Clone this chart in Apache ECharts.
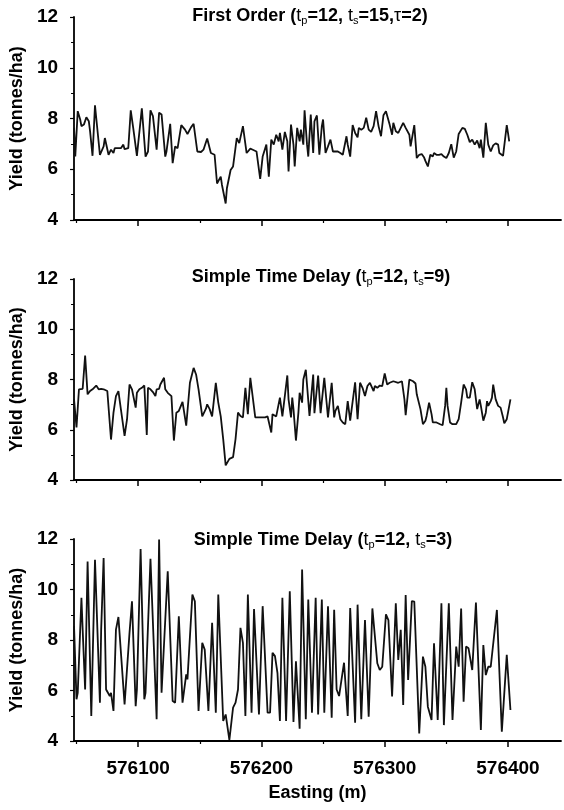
<!DOCTYPE html>
<html>
<head>
<meta charset="utf-8">
<script src="https://cdn.jsdelivr.net/npm/echarts@6/dist/echarts.min.js"></script>
<style>html,body{margin:0;padding:0;background:#fff}#c{width:564px;height:810px}</style>
</head>
<body>
<div id="c"></div>
<script>
// ---- Data (Easting in m, Yield in tonnes/ha) ----
const eastingFirstOrder = [
576048,576049,576051,576053,576054,576056,576058,576060,576061,576063,576065,576066,576069,576072,576073,576076,576078,576080,576081,576082,
576084,576086,576088,576089,576092,576094,576096,576099,576103,576106,576108,576110,576112,576115,576117,576119,576122,576123,576126,576128,
576130,576132,576135,576138,576140,576143,576145,576148,576151,576153,576156,576159,576162,576164,576167,576168,576171,576172,576175,576177,
576180,576182,576185,576188,576191,576193,576196,576199,576201,576204,576206,576208,576210,576212,576214,576215,576217,576219,576221,576222,
576224,
576226,576227,576229,576231,576232,576234,576235,576237,576238,576240,576242,576243,576245,576247,576249,576250,576252,576254,576256,576258,
576259,576262,576264,576266,576267,576269,576270,576272,576274,576276,576278,576279,576281,576283,576285,576287,576289,576291,576293,576295,
576297,576299,576301,576302,576304,576306,576307,576309,576311,576313,576315,576317,576320,576321,576324,576326,576328,576330,576332,576333,
576335,576337,576339,576340,576342,576344,576346,576348,576350,576352,576354,576356,576358,576360,576363,576365,576367,576369,576371,576373,
576375,576377,576378,576380,576382,576384,576386,576388,576390,576392,576393,576396,576397,576399,576400,576401
];
const yieldFirstOrder = [
7.63,6.50,8.29,7.96,7.70,7.76,8.05,7.89,7.50,6.53,8.52,8.03,6.57,6.90,7.23,6.57,6.77,6.64,6.83,6.77,
6.83,6.83,6.97,6.79,6.83,8.32,7.63,6.53,8.40,6.50,6.70,8.32,8.09,6.77,8.23,8.16,6.50,6.70,7.79,6.24,
6.90,6.83,7.74,7.56,7.39,7.66,7.79,6.70,6.68,6.77,7.21,6.64,6.57,5.44,5.71,5.38,4.65,5.25,5.97,6.11,
7.23,7.03,7.70,6.64,6.81,6.77,6.70,5.62,6.50,6.97,5.71,7.17,6.97,7.36,7.10,7.43,6.77,7.47,7.10,5.91,
7.76,
6.97,6.11,7.63,7.10,7.56,6.97,8.32,6.97,6.50,8.16,6.64,7.89,8.12,6.57,7.70,7.96,6.64,6.90,7.17,6.70,
6.64,6.70,6.64,6.57,6.50,7.30,6.97,6.50,7.74,7.43,7.26,7.63,7.56,7.63,8.03,7.56,7.47,7.70,8.29,7.70,
7.30,8.13,8.29,8.23,7.76,7.36,7.83,7.50,7.43,7.63,7.83,7.63,7.36,6.90,7.74,6.44,6.57,6.60,6.46,6.33,
6.11,6.57,6.50,6.64,6.57,6.57,6.60,6.50,6.44,6.64,6.99,6.46,6.70,7.39,7.63,7.59,7.36,7.07,7.17,6.97,
7.13,6.83,7.17,6.46,7.83,6.97,6.70,6.94,7.02,6.97,6.64,6.53,6.57,7.74,7.43,7.10
];

const eastingDelay9 = [
576048,576050,576052,576055,576057,576059,576061,576063,576064,576066,576068,576070,576072,576073,576075,576078,576080,576082,576084,576086,
576089,576091,576093,576095,576098,576099,576101,576103,576105,576107,576108,576110,576112,576114,576115,576117,576118,576121,576122,576124,
576127,576129,576131,576133,576136,576139,576142,576145,576147,576149,576152,576155,576156,576158,576160,576163,576165,576167,576169,576171,
576174,576177,576179,576181,576183,576185,576187,576189,576191,576195,576199,576203,576205,576208,576209,576212,576215,576217,576221,576222,
576224,
576225,576226,576228,576230,576231,576233,576234,576236,576239,576242,576243,576246,576248,576251,576254,576257,576259,576260,576262,576264,
576266,576268,576270,576272,576276,576278,576280,576282,576284,576286,576288,576291,576292,576294,576296,576298,576300,576302,576304,576307,
576308,576311,576314,576316,576317,576320,576323,576325,576326,576329,576331,576333,576334,576336,576338,576339,576342,576345,576347,576349,
576350,576351,576353,576355,576358,576360,576362,576364,576366,576367,576369,576371,576373,576374,576375,576377,576378,576380,576382,576383,
576384,576386,576387,576388,576390,576392,576394,576396,576397,576399,576400,576402
];
const yieldDelay9 = [
7.21,6.09,7.61,7.63,8.95,7.41,7.54,7.61,7.63,7.76,7.61,7.63,7.61,7.63,7.54,5.61,6.68,7.34,7.54,6.82,
5.76,6.42,7.80,7.61,6.88,7.47,7.61,7.67,7.76,5.79,7.67,7.61,7.50,7.34,7.61,7.63,7.80,8.07,7.61,7.47,
7.34,5.57,6.68,6.75,7.11,6.16,7.87,8.46,8.20,7.61,6.53,6.84,7.01,6.82,6.53,7.87,7.08,6.53,5.63,4.58,
4.84,4.91,5.63,6.68,6.55,6.49,7.67,6.62,8.07,6.49,6.49,6.49,6.53,5.89,6.62,6.53,7.28,6.53,8.16,7.21,
6.49,
7.28,6.82,5.57,6.68,7.47,7.08,8.00,8.39,6.55,8.20,6.66,8.16,6.66,8.07,6.49,7.87,6.49,6.75,6.95,6.42,
6.29,6.22,7.14,6.36,7.89,6.42,7.87,7.67,7.34,7.74,7.87,7.54,7.74,7.67,7.76,7.74,8.24,7.80,7.87,7.93,
7.87,7.87,7.93,7.21,6.58,8.00,7.93,7.84,7.41,6.82,6.22,6.36,6.55,7.08,6.62,6.29,6.29,6.22,6.18,6.95,
7.67,6.95,6.29,6.22,6.22,6.42,7.08,7.80,7.61,7.28,7.28,7.89,7.61,7.21,6.82,7.21,6.95,6.36,6.68,7.14,
6.95,7.14,7.28,7.80,7.21,6.95,6.88,6.49,6.26,6.42,6.68,7.21
];

const eastingDelay3 = [
576048,576050,576051,576054,576055,576057,576059,576062,576065,576069,576070,576072,576074,576077,576078,576080,576082,576084,576089,576093,
576095,576098,576099,576102,576105,576106,576110,576115,576117,576119,576124,576128,576130,576133,576136,576139,576140,576144,576146,576149,
576152,576154,576157,576160,576163,576165,
576169,576171,576174,576177,576179,576181,576183,576185,576187,576189,576192,576194,576198,576199,576201,576205,576207,576209,576211,576213,
576215,576217,576220,576223,576226,576228,576231,576233,576236,576238,576241,576244,576246,576249,576251,576254,576257,576259,576261,576263,
576267,576270,576272,576276,576278,576281,
576284,576287,576290,576294,576296,576298,576301,576303,576306,576309,576311,576313,576315,576317,576319,576322,576324,576328,576331,576333,
576335,576338,576340,576343,576346,576348,576352,576355,576358,576360,576362,576364,576366,576368,576371,576374,576378,576380,576382,576384,
576386,576387,576391,576395,576399,576402
];
const yieldDelay3 = [
8.55,5.65,5.91,9.67,8.41,6.04,11.11,4.99,11.18,5.52,8.41,11.25,6.04,5.78,5.91,5.19,8.41,8.91,5.45,8.28,
9.53,5.38,6.04,11.60,5.65,5.91,11.22,4.86,11.98,5.91,10.72,5.58,5.52,8.94,5.52,6.64,6.44,9.80,9.53,5.19,
7.89,7.62,5.19,8.68,5.12,9.80,
4.79,5.05,4.04,5.32,5.52,6.04,8.48,7.89,4.99,9.80,5.12,9.23,5.05,5.05,9.34,5.12,5.12,7.49,7.36,6.70,
4.79,9.67,4.79,9.93,4.75,7.16,4.49,10.79,4.86,9.60,5.12,9.67,5.05,9.60,5.12,9.34,4.92,9.20,6.04,5.78,
7.10,4.99,9.27,4.72,9.40,4.86,
8.79,4.96,9.25,7.08,6.81,6.94,9.02,8.79,5.76,9.45,7.21,8.40,5.43,9.78,6.42,9.54,9.52,4.30,7.34,6.94,
5.36,4.83,7.87,4.83,9.45,4.63,9.45,4.83,7.74,6.94,9.25,5.56,7.74,7.67,6.81,9.48,4.44,7.80,6.61,6.94,
6.94,7.01,9.19,4.37,7.41,5.23
];

const eastingMajorTicks = [576100, 576200, 576300, 576400];
const eastingMinorTicks = [576050, 576150, 576250, 576350];
const eastingRange = [576048, 576443];
const yieldRange = [4, 12];

// ---- Chart ----
const FONT = '"Liberation Sans", Arial, Helvetica, sans-serif';
const chart = echarts.init(document.getElementById('c'), null, {renderer: 'canvas', width: 564, height: 810});

const panels = [
  {E: eastingFirstOrder, Y: yieldFirstOrder, top: 17, height: 203,
   title: '{b|First Order (}{t|t}{s|p}{b|=12, }{t|t}{s|s}{b|=15,}{t|τ}{b|=2)}', tx: 310, ty: 16},
  {E: eastingDelay9, Y: yieldDelay9, top: 279, height: 201,
   title: '{b|Simple Time Delay (}{t|t}{s|p}{b|=12, }{t|t}{s|s}{b|=9)}', tx: 321, ty: 277},
  {E: eastingDelay3, Y: yieldDelay3, top: 539, height: 202,
   title: '{b|Simple Time Delay (}{t|t}{s|p}{b|=12, }{t|t}{s|s}{b|=3)}', tx: 323, ty: 540}
];

const grid = [], xAxis = [], yAxis = [], series = [], graphic = [];
panels.forEach((p, i) => {
  const last = i === panels.length - 1;
  grid.push({left: 69, right: 3, top: p.top, height: p.height});
  xAxis.push({
    type: 'value', gridIndex: i, position: 'bottom',
    min: eastingRange[0], max: eastingRange[1],
    axisLine: {show: true, onZero: false, lineStyle: {color: '#000', width: 1.8}},
    axisTick: {show: true, inside: false, length: 6, customValues: eastingMajorTicks, lineStyle: {color: '#000', width: 1.5}},
    axisLabel: {show: last, customValues: eastingMajorTicks, margin: 18, color: '#000',
      fontFamily: FONT, fontWeight: 'bold', fontSize: 19, formatter: v => String(v)},
    splitLine: {show: false},
    name: last ? 'Easting (m)' : '', nameLocation: 'middle', nameGap: 43,
    nameTextStyle: {color: '#000', fontFamily: FONT, fontWeight: 'bold', fontSize: 18}
  });
  yAxis.push({
    type: 'value', gridIndex: i, min: yieldRange[0], max: yieldRange[1], interval: 2,
    axisLine: {show: true, onZero: false, lineStyle: {color: '#000', width: 1.8}},
    axisTick: {show: true, inside: false, length: 4, lineStyle: {color: '#000', width: 1.2}},
    minorTick: {show: true, splitNumber: 2, length: 3, lineStyle: {color: '#000', width: 1}},
    axisLabel: {margin: 16, color: '#000', fontFamily: FONT, fontWeight: 'bold', fontSize: 19},
    splitLine: {show: false}, minorSplitLine: {show: false},
    name: 'Yield (tonnes/ha)', nameLocation: 'middle', nameGap: 44,
    nameTextStyle: {color: '#000', fontFamily: FONT, fontWeight: 'bold', fontSize: 18}
  });
  series.push({
    type: 'line', xAxisIndex: i, yAxisIndex: i,
    data: p.E.map((e, k) => [e, p.Y[k]]),
    showSymbol: false, symbol: 'none', smooth: false,
    lineStyle: {color: '#111', width: 1.8}, z: 3
  });
  graphic.push({
    type: 'text', x: p.tx, y: p.ty, z: 10,
    style: {
      text: p.title, align: 'center', verticalAlign: 'middle', fill: '#000',
      rich: {
        b: {fontFamily: FONT, fontWeight: 'bold', fontSize: 18, fill: '#000', lineHeight: 21},
        t: {fontFamily: FONT, fontWeight: 'normal', fontSize: 18, fill: '#000', lineHeight: 21},
        s: {fontFamily: FONT, fontWeight: 'normal', fontSize: 11, fill: '#000', verticalAlign: 'bottom', lineHeight: 21}
      }
    }
  });
});
// minor easting ticks
panels.forEach((p, i) => {
  xAxis.push({
    type: 'value', gridIndex: i, position: 'bottom',
    min: eastingRange[0], max: eastingRange[1],
    axisLine: {show: false, onZero: false},
    axisTick: {show: true, inside: false, length: 3, customValues: eastingMinorTicks, lineStyle: {color: '#000', width: 1.2}},
    axisLabel: {show: false}, splitLine: {show: false}
  });
});

chart.setOption({
  backgroundColor: '#fff',
  animation: false,
  grid, xAxis, yAxis, series, graphic
});
</script>
</body>
</html>
